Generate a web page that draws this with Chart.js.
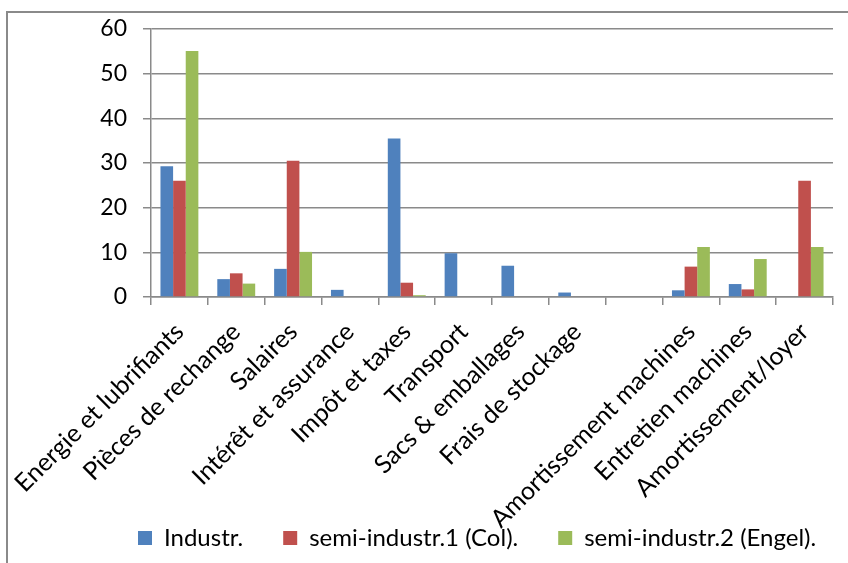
<!DOCTYPE html>
<html>
<head>
<meta charset="utf-8">
<script src="https://cdn.jsdelivr.net/npm/chart.js@4"></script>
<style>
  body { margin: 0; background: #fff; }
  #cadre {
    position: absolute; left: 6px; top: 11px; width: 842px; height: 552px;
    border-top: 2px solid #8a8a8a; border-left: 2px solid #8a8a8a;
  }
  #wrap { position: absolute; left: 0; top: 0; width: 840px; height: 550px; }
</style>
</head>
<body>
<div id="cadre"><div id="wrap"><canvas id="graficoCustos"></canvas></div></div>
<script>
// categorias (a 9a é vazia no original)
const categorias = [
  'Energie et lubrifiants', 'Pièces de rechange', 'Salaires', 'Intérêt et assurance',
  'Impôt et taxes', 'Transport', 'Sacs & emballages', 'Frais de stockage', '',
  'Amortissement machines', 'Entretien machines', 'Amortissement/loyer'
];
const industr = [29.3, 4.0, 6.3, 1.6, 35.5, 9.8, 7.0, 1.0, null, 1.5, 2.9, null];
const semiIndustr1 = [26.0, 5.3, 30.5, null, 3.2, null, null, null, null, 6.8, 1.7, 26.0];
const semiIndustr2 = [55.1, 3.0, 10.1, null, 0.4, null, null, null, null, 11.2, 8.5, 11.2];
const yTicks = [0, 10, 20, 30, 40, 50, 60];

const fonte = 'Lato, "Liberation Sans", sans-serif';
const cinza = '#8a8a8a';

// legenda mais à direita e rótulos do eixo x sem corte
const ajustes = {
  id: 'ajustes',
  afterUpdate(chart) {
    chart.legend.left += 90;
    chart.legend.right += 90;
    chart.scales.x.bottom = chart.height;
  }
};

document.addEventListener('DOMContentLoaded', function () {
  const ctx = document.getElementById('graficoCustos');

  new Chart(ctx.getContext('2d'), {
    type: 'bar',
    data: {
      labels: categorias,
      datasets: [
        { label: 'Industr.', data: industr, backgroundColor: '#4F81BD' },
        { label: 'semi-industr.1 (Col).', data: semiIndustr1, backgroundColor: '#C0504D' },
        { label: 'semi-industr.2 (Engel).', data: semiIndustr2, backgroundColor: '#9BBB59' }
      ]
    },
    options: {
      responsive: true,
      maintainAspectRatio: false,
      animation: false,
      datasets: { bar: { categoryPercentage: 0.667, barPercentage: 1.0 } },
      layout: { padding: { top: 16, right: 15, left: 0, bottom: 3 } },
      scales: {
        x: {
          grid: { offset: true, drawOnChartArea: false, color: cinza, lineWidth: 1.5, tickLength: 8 },
          border: { color: cinza, width: 1.5 },
          ticks: { color: '#000', font: { family: fonte, size: 25 }, minRotation: 45, maxRotation: 45, padding: 12, autoSkip: false },
          afterFit: function (scale) {
            scale.height = 189;
            scale.paddingLeft = 0;
            scale.paddingRight = 0;
          }
        },
        y: {
          min: 0, max: 60,
          afterBuildTicks: function (scale) { scale.ticks = yTicks.map(v => ({ value: v })); },
          grid: { color: cinza, lineWidth: 1.5, tickLength: 8 },
          border: { color: cinza, width: 1.5 },
          ticks: { color: '#000', font: { family: fonte, size: 23 }, padding: 16 },
          afterFit: function (scale) {
            scale.width = 143;
            scale.paddingTop = 0;
            scale.paddingBottom = 0;
          }
        }
      },
      plugins: {
        legend: {
          position: 'bottom',
          align: 'start',
          labels: { color: '#000', font: { family: fonte, size: 24 }, boxWidth: 14, boxHeight: 14, padding: 40 }
        },
        tooltip: { enabled: false }
      }
    },
    plugins: [ajustes]
  });
});
</script>
</body>
</html>
